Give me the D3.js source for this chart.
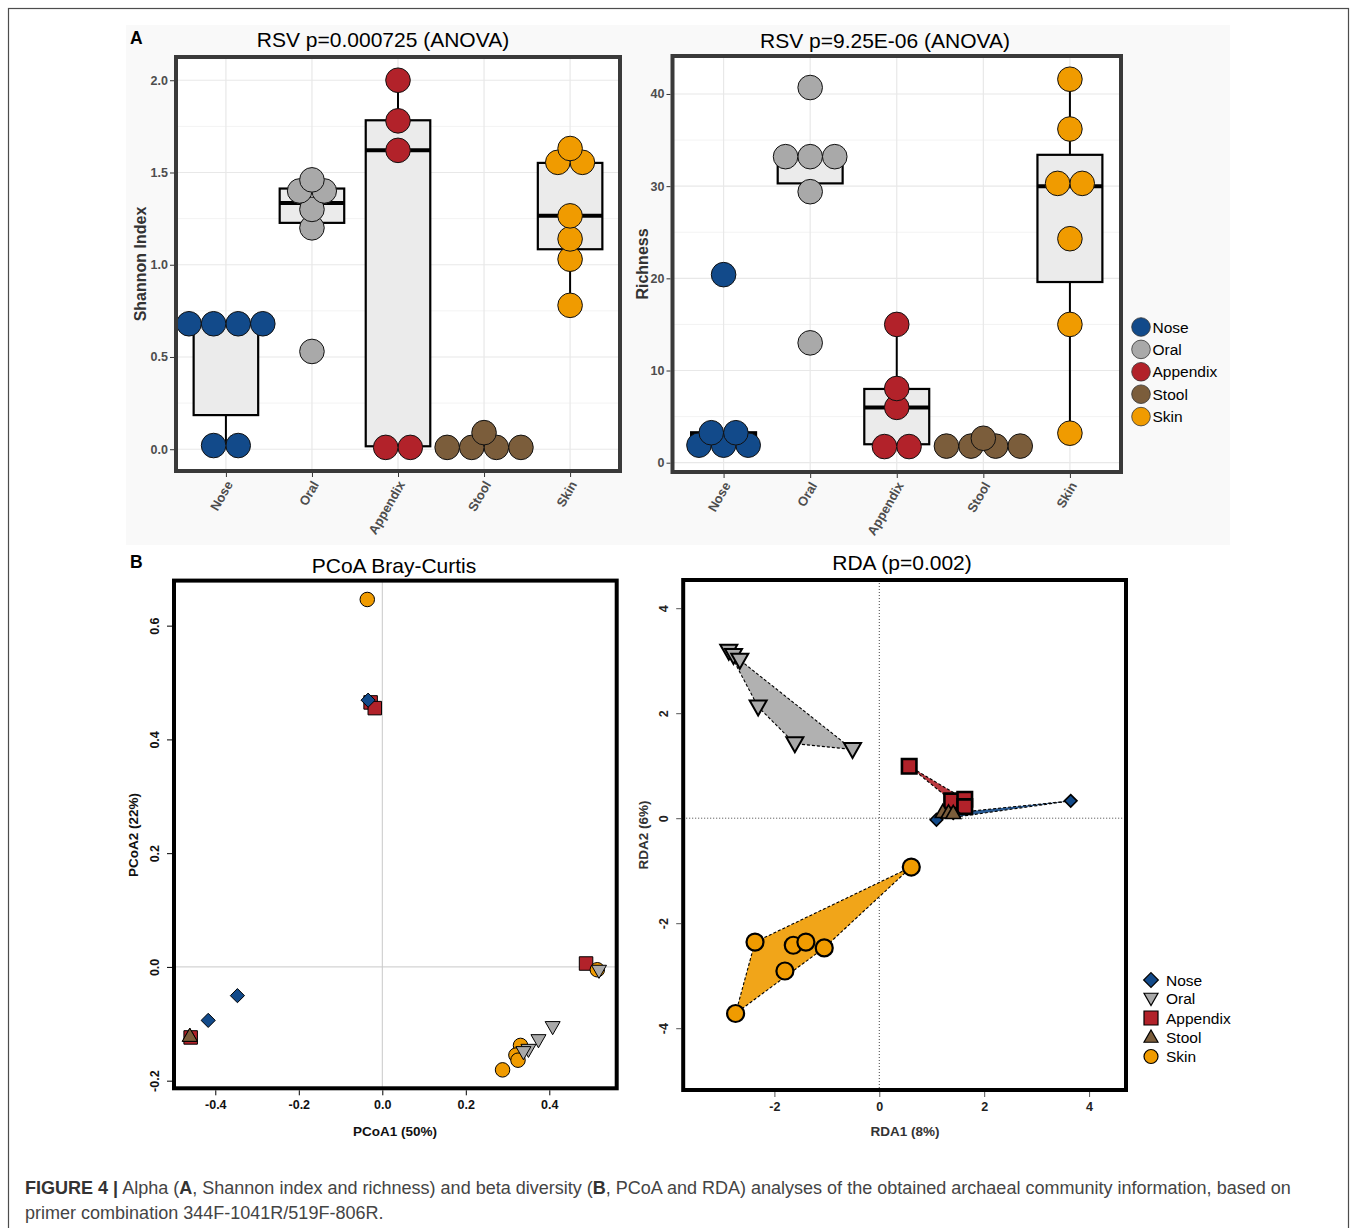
<!DOCTYPE html>
<html><head><meta charset="utf-8">
<script src="https://cdn.jsdelivr.net/npm/d3@7"></script>
<style>
body{margin:0;background:#fff}
svg{display:block}
text{font-family:"Liberation Sans",Arial,Helvetica,sans-serif}
</style>
</head><body>
<svg id="fig" width="1357" height="1228"></svg>
<script>
// ---------------- DATA ----------------
const groups = ["Nose","Oral","Appendix","Stool","Skin"];
const groupColors = ["#124a8a","#a9a9a9","#b2222a","#7b5d3b","#f09b00"];

// Panel A (left): Shannon index, dot (bin centre) values per group
const shannonNose = [0.68,0.68,0.68,0.68,0.02,0.02];
const shannonOral = [1.46,1.40,1.40,1.30,1.20,0.53];
const shannonAppendix = [2.00,1.78,1.62,0.01,0.01];
const shannonStool = [0.09,0.01,0.01,0.01,0.01];
const shannonSkin = [1.63,1.555,1.555,1.265,1.14,1.03,0.78];
// box statistics per group (Nose, Oral, Appendix, Stool, Skin)
const shannonLow  = [0.02,1.20,0.01,0.01,0.78];
const shannonQ1   = [0.185,1.227,0.016,0.01,1.084];
const shannonMed  = [0.68,1.335,1.62,0.01,1.265];
const shannonQ3   = [0.68,1.413,1.783,0.01,1.552];
const shannonHigh = [0.68,1.46,2.00,0.01,1.63];
const shannonTicks = [0,0.5,1,1.5,2];
const shannonMinor = [0.25,0.75,1.25,1.75];

// Panel A (right): Richness
const richNose = [20.4,3.25,3.25,1.9,1.9,1.9];
const richOral = [40.7,33.2,33.2,33.2,29.4,13.0];
const richAppendix = [15.0,8.05,6.0,1.75,1.75];
const richStool = [2.65,1.8,1.8,1.8,1.8];
const richSkin = [41.6,36.2,30.3,30.3,24.3,15.0,3.2];
const richLow  = [1.9,29.4,2.0,1.8,3.2];
const richQ1   = [2.0,30.3,2.0,1.8,19.6];
const richMed  = [3.1,33.2,6.0,1.8,30.0];
const richQ3   = [3.3,33.2,8.0,1.8,33.4];
const richHigh = [3.3,33.2,15.0,1.8,41.6];
const richTicks = [0,10,20,30,40];
const richMinor = [5,15,25,35];

// Panel B (left): PCoA Bray-Curtis coordinates
const pcoaNoseX = [-0.034,-0.347,-0.417];
const pcoaNoseY = [0.469,-0.0505,-0.094];
const pcoaOralX = [0.519,0.408,0.374,0.350,0.338];
const pcoaOralY = [-0.007,-0.106,-0.129,-0.146,-0.150];
const pcoaAppendixX = [-0.028,-0.018,0.488,-0.459];
const pcoaAppendixY = [0.465,0.455,0.006,-0.124];
const pcoaStoolX = [-0.461,-0.461];
const pcoaStoolY = [-0.121,-0.121];
const pcoaSkinX = [-0.036,0.515,0.331,0.320,0.325,0.288];
const pcoaSkinY = [0.646,-0.005,-0.138,-0.155,-0.164,-0.181];
const pcoaXTicks = [-0.4,-0.2,0.0,0.2,0.4];
const pcoaYTicks = [-0.2,0.0,0.2,0.4,0.6];

// Panel B (right): RDA site scores
const rdaNoseX = [1.09,1.41,3.65];
const rdaNoseY = [-0.03,0.10,0.33];
const rdaOralX = [-2.87,-2.78,-2.66,-2.31,-1.61,-0.51];
const rdaOralY = [3.18,3.10,3.01,2.12,1.42,1.31];
const rdaAppendixX = [0.57,1.38,1.63,1.63];
const rdaAppendixY = [0.99,0.33,0.36,0.22];
const rdaStoolX = [1.21,1.32,1.41];
const rdaStoolY = [0.12,0.11,0.10];
const rdaSkinX = [0.61,-2.37,-1.64,-1.40,-1.05,-1.80,-2.74];
const rdaSkinY = [-0.93,-2.36,-2.42,-2.36,-2.47,-2.91,-3.72];
const rdaXTicks = [-2,0,2,4];
const rdaYTicks = [-4,-2,0,2,4];

// ---------------- DRAWING ----------------
const svg = d3.select("#fig");
const fmt1 = d => d.toFixed(1);
const fmt0 = d => String(d);

// outer frame
svg.append("rect").attr("x",8.5).attr("y",8.5).attr("width",1340).attr("height",1250)
  .attr("fill","none").attr("stroke","#4d4d4d").attr("stroke-width",1.2);
// panel A backdrop
svg.append("rect").attr("x",126).attr("y",25).attr("width",1104).attr("height",520).attr("fill","#f9f9f9");

function boxDotPanel(o){
  const g = svg.append("g");
  const x = d3.scalePoint().domain(groups).range([o.x0,o.x1]).padding(o.pad);
  const y = d3.scaleLinear().domain(o.domain).range([o.y1,o.y0]);
  g.append("rect").attr("x",o.x0).attr("y",o.y0).attr("width",o.x1-o.x0).attr("height",o.y1-o.y0).attr("fill","#fff");
  o.minor.forEach(v=>g.append("line").attr("x1",o.x0).attr("x2",o.x1).attr("y1",y(v)).attr("y2",y(v)).attr("stroke","#f3f3f3").attr("stroke-width",1));
  o.ticks.forEach(v=>g.append("line").attr("x1",o.x0).attr("x2",o.x1).attr("y1",y(v)).attr("y2",y(v)).attr("stroke","#e8e8e8").attr("stroke-width",1.2));
  groups.forEach(c=>g.append("line").attr("x1",x(c)).attr("x2",x(c)).attr("y1",o.y0).attr("y2",o.y1).attr("stroke","#e8e8e8").attr("stroke-width",1.2));
  const bw = x.step()*0.75;
  groups.forEach((c,i)=>{
    const cx = x(c);
    g.append("line").attr("x1",cx).attr("x2",cx).attr("y1",y(o.q3[i])).attr("y2",y(o.high[i])).attr("stroke","#000").attr("stroke-width",2);
    g.append("line").attr("x1",cx).attr("x2",cx).attr("y1",y(o.q1[i])).attr("y2",y(o.low[i])).attr("stroke","#000").attr("stroke-width",2);
    g.append("rect").attr("x",cx-bw/2).attr("y",y(o.q3[i])).attr("width",bw).attr("height",Math.max(0,y(o.q1[i])-y(o.q3[i])))
      .attr("fill","#ebebeb").attr("stroke","#000").attr("stroke-width",2.2);
    g.append("line").attr("x1",cx-bw/2).attr("x2",cx+bw/2).attr("y1",y(o.med[i])).attr("y2",y(o.med[i])).attr("stroke","#000").attr("stroke-width",4);
  });
  const r = 12.3;
  o.dots.forEach((vals,i)=>{
    const cx = x(groups[i]);
    const byVal = d3.groups(vals, v=>v);
    const pts = [];
    byVal.forEach(([v,arr])=>{
      arr.forEach((_,k)=>pts.push({v, dx:(k-(arr.length-1)/2)*2*r}));
    });
    pts.slice().reverse().forEach(p=>{
      g.append("circle").attr("cx",cx+p.dx).attr("cy",y(p.v)).attr("r",r)
        .attr("fill",groupColors[i]).attr("stroke","#111").attr("stroke-width",1);
    });
  });
  g.append("rect").attr("x",o.x0).attr("y",o.y0).attr("width",o.x1-o.x0).attr("height",o.y1-o.y0)
    .attr("fill","none").attr("stroke","#3a3a3a").attr("stroke-width",4);
  // y axis
  const ya = g.append("g").attr("transform",`translate(${o.x0-2},0)`)
    .call(d3.axisLeft(y).tickValues(o.ticks).tickFormat(o.fmt).tickSize(4).tickPadding(2));
  ya.select(".domain").remove();
  ya.selectAll(".tick line").attr("stroke","#333").attr("stroke-width",1);
  ya.selectAll(".tick text").attr("fill","#4d4d4d").style("font-size","12.5px").style("font-weight","bold")
    .style("font-family",'"Liberation Sans",Arial,sans-serif');
  // x axis
  const xa = g.append("g").attr("transform",`translate(0,${o.y1+2})`)
    .call(d3.axisBottom(x).tickSize(4).tickPadding(0));
  xa.select(".domain").remove();
  xa.selectAll(".tick line").attr("stroke","#333").attr("stroke-width",1);
  xa.selectAll(".tick text").attr("fill","#4d4d4d").style("font-size","13px").style("font-weight","bold")
    .style("font-family",'"Liberation Sans",Arial,sans-serif')
    .attr("text-anchor","end").attr("y",0).attr("dy","0.35em")
    .attr("transform","translate(3,9) rotate(-60)");
  // title
  g.append("text").attr("x",o.titleX).attr("y",o.titleY).attr("text-anchor","middle")
    .style("font-size","21px").attr("fill","#000").text(o.title);
  g.append("text").attr("transform",`translate(${o.ylabX},${(o.y0+o.y1)/2}) rotate(-90)`).attr("text-anchor","middle")
    .style("font-size","16px").style("font-weight","bold").attr("fill","#333").text(o.ylab);
}

boxDotPanel({x0:176,x1:620,y0:57,y1:471,pad:0.58,domain:[-0.118,2.126],
  ticks:shannonTicks,minor:shannonMinor,fmt:fmt1,
  dots:[shannonNose,shannonOral,shannonAppendix,shannonStool,shannonSkin],
  low:shannonLow,q1:shannonQ1,med:shannonMed,q3:shannonQ3,high:shannonHigh,
  title:"RSV p=0.000725 (ANOVA)",titleX:383,titleY:47,ylab:"Shannon Index",ylabX:146});

boxDotPanel({x0:672.5,x1:1121,y0:56,y1:472,pad:0.59,domain:[-1.01,44.12],
  ticks:richTicks,minor:richMinor,fmt:fmt0,
  dots:[richNose,richOral,richAppendix,richStool,richSkin],
  low:richLow,q1:richQ1,med:richMed,q3:richQ3,high:richHigh,
  title:"RSV p=9.25E-06 (ANOVA)",titleX:885,titleY:48,ylab:"Richness",ylabX:648});

// panel A legend
groups.forEach((c,i)=>{
  const yy = 327 + i*22.4;
  svg.append("circle").attr("cx",1141).attr("cy",yy).attr("r",9.3).attr("fill",groupColors[i]).attr("stroke","#333").attr("stroke-width",0.8);
  svg.append("text").attr("x",1152.5).attr("y",yy+5.5).style("font-size","15.5px").attr("fill","#000").text(c);
});

// panel labels
svg.append("text").attr("x",130).attr("y",43.5).style("font-size","17.5px").style("font-weight","bold").text("A");
svg.append("text").attr("x",130).attr("y",567.5).style("font-size","17.5px").style("font-weight","bold").text("B");

// ---------- marker shapes ----------
function shapePath(shape, s){
  const h = s/2;
  if(shape==="diamond") return `M0,${-h*1.05}L${h*1.05},0L0,${h*1.05}L${-h*1.05},0Z`;
  if(shape==="down") return `M${-h},${-h*0.75}L${h},${-h*0.75}L0,${h*1.0}Z`;
  if(shape==="up") return `M${-h},${h*0.75}L${h},${h*0.75}L0,${-h*1.0}Z`;
  if(shape==="square") return `M${-h},${-h}L${h},${-h}L${h},${h}L${-h},${h}Z`;
  return null;
}
const groupShapes = ["diamond","down","square","up","circle"];
function marker(g, shape, cx, cy, s, fill, sw){
  if(shape==="circle"){
    g.append("circle").attr("cx",cx).attr("cy",cy).attr("r",s/2).attr("fill",fill).attr("stroke","#000").attr("stroke-width",sw);
  } else {
    g.append("path").attr("d",shapePath(shape,s)).attr("transform",`translate(${cx},${cy})`)
      .attr("fill",fill).attr("stroke","#000").attr("stroke-width",sw).attr("stroke-linejoin","miter");
  }
}

function scatterFrame(o){
  const g = svg.append("g");
  const x = d3.scaleLinear().domain(o.xd).range([o.x0,o.x1]);
  const y = d3.scaleLinear().domain(o.yd).range([o.y1,o.y0]);
  // axes
  const xa = g.append("g").attr("transform",`translate(0,${o.y1+2})`)
    .call(d3.axisBottom(x).tickValues(o.xt).tickFormat(o.fmt).tickSize(5).tickPadding(5));
  xa.select(".domain").remove();
  xa.selectAll(".tick line").attr("stroke",o.tickCol);
  xa.selectAll(".tick text").attr("fill",o.labCol).style("font-size","12.5px").style("font-weight","bold")
    .style("font-family",'"Liberation Sans",Arial,sans-serif');
  const ya = g.append("g").attr("transform",`translate(${o.x0-2},0)`)
    .call(d3.axisLeft(y).tickValues(o.yt).tickFormat(o.fmt).tickSize(5));
  ya.select(".domain").remove();
  ya.selectAll(".tick line").attr("stroke",o.tickCol);
  ya.selectAll(".tick text").attr("fill",o.labCol).style("font-size","12.5px").style("font-weight","bold")
    .style("font-family",'"Liberation Sans",Arial,sans-serif')
    .attr("x",0).attr("y",-13).attr("dy",0).attr("text-anchor","middle").attr("transform","rotate(-90)");
  g.append("text").attr("x",o.titleX).attr("y",o.titleY).attr("text-anchor","middle").style("font-size","21px").text(o.title);
  g.append("text").attr("x",o.xlabX).attr("y",1136).attr("text-anchor","middle").style("font-size","13.5px")
    .style("font-weight","bold").attr("fill",o.titleCol).text(o.xlab);
  g.append("text").attr("transform",`translate(${o.ylabX},835) rotate(-90)`).attr("text-anchor","middle").style("font-size","13.5px")
    .style("font-weight","bold").attr("fill",o.titleCol).text(o.ylab);
  return {g,x,y};
}

// ---------- PCoA ----------
{
  const o = {x0:174,x1:616.7,y0:580.6,y1:1088.3,xd:[-0.4989,0.5614],yd:[-0.2134,0.6792],
    xt:pcoaXTicks,yt:pcoaYTicks,fmt:fmt1,tickCol:"#000",labCol:"#111",titleCol:"#111",
    title:"PCoA Bray-Curtis",titleX:394,titleY:573,xlab:"PCoA1 (50%)",xlabX:395,ylab:"PCoA2 (22%)",ylabX:138};
  const {g,x,y} = scatterFrame(o);
  g.append("line").attr("x1",x(0)).attr("x2",x(0)).attr("y1",o.y0).attr("y2",o.y1).attr("stroke","#c8c8c8").attr("stroke-width",1);
  g.append("line").attr("x1",o.x0).attr("x2",o.x1).attr("y1",y(0)).attr("y2",y(0)).attr("stroke","#c8c8c8").attr("stroke-width",1);
  const sets = [
    [2,pcoaAppendixX,pcoaAppendixY,13.5],
    [4,pcoaSkinX,pcoaSkinY,14.5],
    [0,pcoaNoseX,pcoaNoseY,13.5],
    [1,pcoaOralX,pcoaOralY,15],
    [3,pcoaStoolX,pcoaStoolY,15]
  ];
  sets.forEach(([gi,xs,ys,s])=>{
    xs.forEach((xv,k)=>marker(g,groupShapes[gi],x(xv),y(ys[k]),s,groupColors[gi],1));
  });
  g.append("rect").attr("x",o.x0).attr("y",o.y0).attr("width",o.x1-o.x0).attr("height",o.y1-o.y0)
    .attr("fill","none").attr("stroke","#000").attr("stroke-width",4);
}

// ---------- RDA ----------
{
  const o = {x0:683.2,x1:1126,y0:580,y1:1090,xd:[-3.739,4.704],yd:[-5.177,4.537],
    xt:rdaXTicks,yt:rdaYTicks,fmt:fmt0,tickCol:"#555",labCol:"#222",titleCol:"#333",
    title:"RDA (p=0.002)",titleX:902,titleY:570,xlab:"RDA1 (8%)",xlabX:905,ylab:"RDA2 (6%)",ylabX:648};
  const {g,x,y} = scatterFrame(o);
  g.append("line").attr("x1",x(0)).attr("x2",x(0)).attr("y1",o.y0).attr("y2",o.y1).attr("stroke","#444").attr("stroke-width",1).attr("stroke-dasharray","1,2");
  g.append("line").attr("x1",o.x0).attr("x2",o.x1).attr("y1",y(0)).attr("y2",y(0)).attr("stroke","#444").attr("stroke-width",1).attr("stroke-dasharray","1,2");
  const sets = [
    [1,rdaOralX,rdaOralY,17,2],
    [4,rdaSkinX,rdaSkinY,17,2.2],
    [2,rdaAppendixX,rdaAppendixY,14.5,2.6],
    [0,rdaNoseX,rdaNoseY,12,1.6],
    [3,rdaStoolX,rdaStoolY,15,1.6]
  ];
  // hulls
  sets.forEach(([gi,xs,ys])=>{
    const pts = xs.map((xv,k)=>[x(xv),y(ys[k])]);
    const hull = d3.polygonHull(pts);
    if(hull){
      g.append("path").attr("d","M"+hull.map(p=>p.join(",")).join("L")+"Z")
        .attr("fill",groupColors[gi]).attr("fill-opacity",0.9)
        .attr("stroke","#000").attr("stroke-width",1.1).attr("stroke-dasharray","3,2");
    }
  });
  sets.forEach(([gi,xs,ys,s,sw])=>{
    xs.forEach((xv,k)=>marker(g,groupShapes[gi],x(xv),y(ys[k]),s,groupColors[gi],sw));
  });
  g.append("rect").attr("x",o.x0).attr("y",o.y0).attr("width",o.x1-o.x0).attr("height",o.y1-o.y0)
    .attr("fill","none").attr("stroke","#000").attr("stroke-width",4);
}

// panel B legend
groups.forEach((c,i)=>{
  const yy = [980,998.5,1018,1037,1056.5][i];
  marker(svg,groupShapes[i],1151,yy,14,groupColors[i],1.2);
  svg.append("text").attr("x",1166).attr("y",yy+5.5).style("font-size","15.5px").attr("fill","#000").text(c);
});

// ---------- caption ----------
const captionLine1 = [["FIGURE 4 |",true],[" Alpha (",false],["A",true],[", Shannon index and richness) and beta diversity (",false],["B",true],[", PCoA and RDA) analyses of the obtained archaeal community information, based on",false]];
const captionLine2 = "primer combination 344F-1041R/519F-806R.";
const capFont = '"Liberation Sans",Arial,sans-serif';
const capSize = 18.5;
const capG1 = svg.append("g");
const cap1 = capG1.append("text").attr("x",0).attr("y",0).style("font-family",capFont).style("font-size",capSize+"px").attr("fill","#3d3d3d");
captionLine1.forEach(([t,b])=>cap1.append("tspan").style("font-weight",b?"bold":"normal").attr("fill",b?"#333":"#444").text(t));
const w1 = cap1.node().getComputedTextLength();
const ratio = Math.min(1, 1267/w1);
capG1.attr("transform",`translate(25,1194) scale(${ratio},1)`);
svg.append("g").attr("transform",`translate(25,1219) scale(${ratio},1)`)
  .append("text").attr("x",0).attr("y",0).style("font-family",capFont).style("font-size",capSize+"px").attr("fill","#444").text(captionLine2);
</script>
</body></html>
